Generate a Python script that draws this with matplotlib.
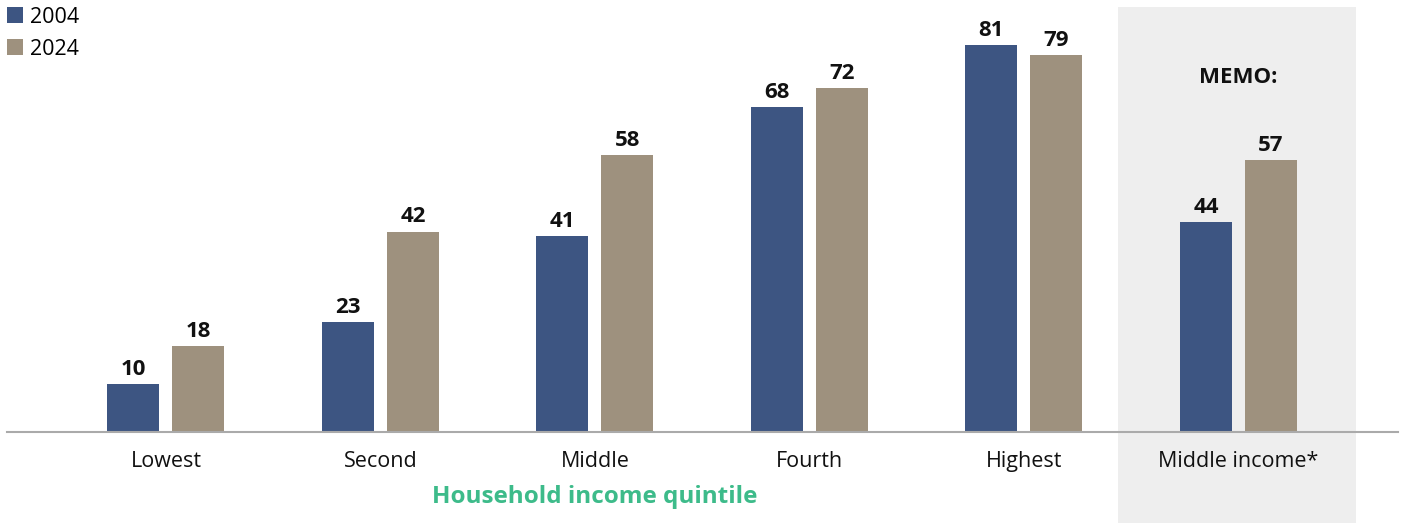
import matplotlib.pyplot as plt
from matplotlib.patches import Rectangle
import numpy as np

plt.rcParams['font.family'] = ['Open Sans', 'DejaVu Sans']

categories = ["Lowest", "Second", "Middle", "Fourth", "Highest", "Middle income*"]
vals_2004 = [10, 23, 41, 68, 81, 44]
vals_2024 = [18, 42, 58, 72, 79, 57]

blue = "#3d5582"
tan = "#9e917e"
green = "#3dbb8a"

fig = plt.figure(figsize=(14.05, 5.23), dpi=100)
ax = fig.add_axes([7 / 1405, 91 / 523, 1391 / 1405, 432 / 523])

x = np.arange(len(categories))
w = 0.242
off = 0.1515
b1 = ax.bar(x - off, vals_2004, w, color=blue, label="2004", zorder=2)
b2 = ax.bar(x + off, vals_2024, w, color=tan, label="2024", zorder=2)

for bars in (b1, b2):
    for r in bars:
        ax.text(r.get_x() + r.get_width() / 2, r.get_height() + 0.9, f"{r.get_height():.0f}",
                ha="center", va="bottom", fontsize=16, fontweight="bold", color="#111111")

ax.set_xlim(-0.741, 5.744)
ax.set_ylim(0, 90.5)

# memo shading
ax.add_patch(Rectangle((4.438, -19.2), 1.11, 108.3, facecolor="#eeeeee",
                       edgecolor="none", clip_on=False, zorder=0))
ax.text(5, 74.3, "MEMO:", ha="center", va="center", fontsize=16, fontweight="bold", color="#111111")

ax.set_xticks(x)
ax.set_xticklabels(categories, fontsize=15.5, color="#111111")
ax.tick_params(axis="x", length=0, pad=13.5)
ax.set_yticks([])
for s in ["top", "right", "left"]:
    ax.spines[s].set_visible(False)
ax.spines["bottom"].set_color("#aaaaaa")
ax.spines["bottom"].set_linewidth(1.5)
ax.spines["bottom"].set_zorder(3)
ax.patch.set_alpha(0)

fig.text(595 / 1405, 1 - 497 / 523, "Household income quintile", ha="center", va="center",
         fontsize=17.5, fontweight="bold", color=green)

fig.legend(handles=[b1, b2], loc="upper left", bbox_to_anchor=(0.005, 0.987), frameon=False,
           fontsize=15.5, handlelength=0.75, handleheight=0.75, handletextpad=0.3,
           labelspacing=0.5, borderaxespad=0, borderpad=0)

plt.savefig("out.png", dpi=100)
